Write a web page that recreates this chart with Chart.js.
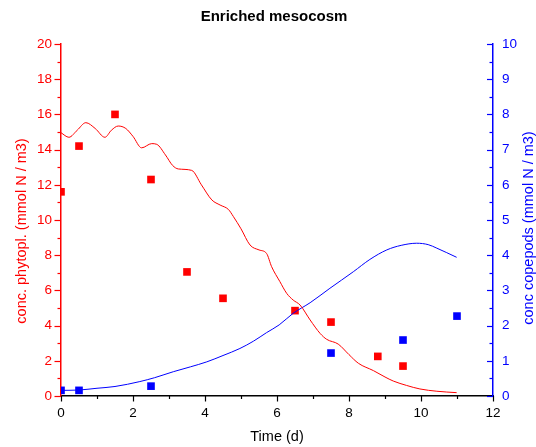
<!DOCTYPE html>
<html>
<head>
<meta charset="utf-8">
<title>Enriched mesocosm</title>
<script src="https://cdn.jsdelivr.net/npm/chart.js@4/dist/chart.umd.min.js"></script>
<style>
    html, body { margin: 0; padding: 0; background: #fff; }
    #wrap { width: 536px; height: 447px; }
</style>
</head>
<body>
<div id="wrap"><canvas id="chart"></canvas></div>
<script>
// model output: phytoplankton (left axis) and copepods (right axis)
const phytoModelT = [0, 0.22, 0.45, 0.69, 0.95, 1.22, 1.4, 1.59, 1.8, 2.0, 2.24, 2.52, 2.66, 2.9, 3.1, 3.26, 3.63,
    3.9, 4.19, 4.42, 4.65, 4.79, 5.0, 5.25, 5.5, 5.71, 5.85, 6.08, 6.27, 6.45, 6.64, 6.92, 7.2, 7.38, 7.7,
    8.0, 8.26, 8.68, 9.0, 9.23, 9.6, 9.97, 10.44, 10.99];
const phytoModel = [14.96, 14.7, 15.1, 15.53, 15.2, 14.7, 15.1, 15.34, 15.2, 14.75, 14.1, 14.34, 14.3, 13.7, 13.1, 12.9, 12.82,
    12.0, 11.14, 10.85, 10.6, 10.19, 9.5, 8.58, 8.3, 8.1, 7.35, 6.5, 5.83, 5.45, 5.17, 4.32, 3.55, 3.22, 2.95,
    2.35, 1.86, 1.44, 1.08, 0.85, 0.6, 0.4, 0.27, 0.19];

const copeModelT = [0, 0.5, 1.0, 1.5, 2.19, 2.6, 3.12, 3.6, 4.05, 4.5, 4.97, 5.35, 5.71, 6.06, 6.45, 6.92,
    7.47, 8.12, 8.58, 9.05, 9.45, 9.88, 10.2, 10.44, 10.99];
const copeModel = [0.16, 0.17, 0.22, 0.27, 0.41, 0.52, 0.69, 0.83, 0.97, 1.15, 1.35, 1.56, 1.8, 2.02, 2.35, 2.65,
    3.06, 3.53, 3.88, 4.15, 4.28, 4.34, 4.3, 4.2, 3.94];

// measurements
const phytoObsT = [0, 0.5, 1.5, 2.5, 3.5, 4.5, 6.5, 7.5, 8.8, 9.5];
const phytoObs = [11.6, 14.2, 16.0, 12.3, 7.05, 5.55, 4.85, 4.2, 2.25, 1.7];
const copeObsT = [0, 0.5, 2.5, 7.5, 9.5, 11];
const copeObs = [0.16, 0.16, 0.28, 1.22, 1.59, 2.27];

const RED = '#ff0000';
const BLUE = '#0000ff';
const FONT = '"Liberation Sans", Arial, sans-serif';

const pts = (xs, ys) => xs.map((x, i) => ({ x: x, y: ys[i] }));

// tick marks, axis titles and the chart title
const axisDecor = {
    id: 'axisDecor',
    afterDraw(chart) {
        const { ctx, chartArea: a, scales } = chart;
        const sx = scales.x, sy = scales.y, sy2 = scales.y2;
        ctx.save();
        ctx.lineWidth = 1.2;

        ctx.strokeStyle = '#000';
        for (let v = 0; v <= 12; v++) {
            const px = Math.round(sx.getPixelForValue(v)) + 0.5;
            const len = v % 2 === 0 ? 5.5 : 3;
            ctx.beginPath();
            ctx.moveTo(px, a.bottom);
            ctx.lineTo(px, a.bottom + len);
            ctx.stroke();
        }

        ctx.strokeStyle = RED;
        for (let v = 0; v <= 20; v++) {
            const py = Math.round(sy.getPixelForValue(v)) + 0.5;
            const len = v % 2 === 0 ? 6.5 : 3.5;
            ctx.beginPath();
            ctx.moveTo(a.left, py);
            ctx.lineTo(a.left - len, py);
            ctx.stroke();
        }

        ctx.strokeStyle = BLUE;
        for (let v = 0; v <= 10; v += 0.5) {
            const py = Math.round(sy2.getPixelForValue(v)) + 0.5;
            const len = v % 1 === 0 ? 6 : 3.5;
            ctx.beginPath();
            ctx.moveTo(a.right, py);
            ctx.lineTo(a.right - len, py);
            ctx.stroke();
        }

        ctx.textAlign = 'center';
        ctx.textBaseline = 'middle';

        ctx.fillStyle = '#000';
        ctx.font = 'bold 15px ' + FONT;
        ctx.fillText('Enriched mesocosm', 274, 17);

        ctx.font = '14.5px ' + FONT;
        ctx.fillText('Time (d)', (a.left + a.right) / 2, 437);

        ctx.save();
        ctx.translate(22, 231);
        ctx.rotate(-Math.PI / 2);
        ctx.fillStyle = RED;
        ctx.fillText('conc. phytopl. (mmol N / m3)', 0, 0);
        ctx.restore();

        ctx.save();
        ctx.translate(529, 228);
        ctx.rotate(-Math.PI / 2);
        ctx.fillStyle = BLUE;
        ctx.fillText('conc copepods (mmol N / m3)', 0, 0);
        ctx.restore();

        ctx.restore();
    }
};

new Chart(document.getElementById('chart'), {
    type: 'line',
    data: {
        datasets: [
            {
                data: pts(phytoModelT, phytoModel),
                yAxisID: 'y',
                borderColor: RED,
                borderWidth: 1,
                pointRadius: 0,
                cubicInterpolationMode: 'monotone',
            },
            {
                data: pts(copeModelT, copeModel),
                yAxisID: 'y2',
                borderColor: BLUE,
                borderWidth: 1,
                pointRadius: 0,
                cubicInterpolationMode: 'monotone',
            },
            {
                data: pts(phytoObsT, phytoObs),
                yAxisID: 'y',
                showLine: false,
                pointStyle: 'rect',
                pointRadius: 5.4,
                pointBorderWidth: 0,
                pointBackgroundColor: RED,
            },
            {
                data: pts(copeObsT, copeObs),
                yAxisID: 'y2',
                showLine: false,
                pointStyle: 'rect',
                pointRadius: 5.4,
                pointBorderWidth: 0,
                pointBackgroundColor: BLUE,
            },
        ],
    },
    options: {
        responsive: true,
        maintainAspectRatio: false,
        animation: false,
        events: [],
        layout: { padding: { top: 44 } },
        plugins: { legend: { display: false }, title: { display: false }, tooltip: { enabled: false } },
        scales: {
            x: {
                type: 'linear',
                min: 0,
                max: 12,
                grid: { display: false, drawTicks: false },
                border: { display: true, color: '#000', width: 1.5 },
                ticks: { stepSize: 2, padding: 9, color: '#000', font: { family: FONT, size: 13.5 } },
                afterFit: (s) => { s.height = 51; },
            },
            y: {
                position: 'left',
                min: 0,
                max: 20,
                grid: { display: false, drawTicks: false },
                border: { display: true, color: RED, width: 1.5 },
                ticks: { stepSize: 2, padding: 9, color: RED, font: { family: FONT, size: 13.5 } },
                afterFit: (s) => { s.width = 61; },
            },
            y2: {
                position: 'right',
                min: 0,
                max: 10,
                grid: { display: false, drawTicks: false },
                border: { display: true, color: BLUE, width: 1.5 },
                ticks: { stepSize: 1, padding: 9, color: BLUE, font: { family: FONT, size: 13.5 } },
                afterFit: (s) => { s.width = 43; },
            },
        },
    },
    plugins: [axisDecor],
});
</script>
</body>
</html>
